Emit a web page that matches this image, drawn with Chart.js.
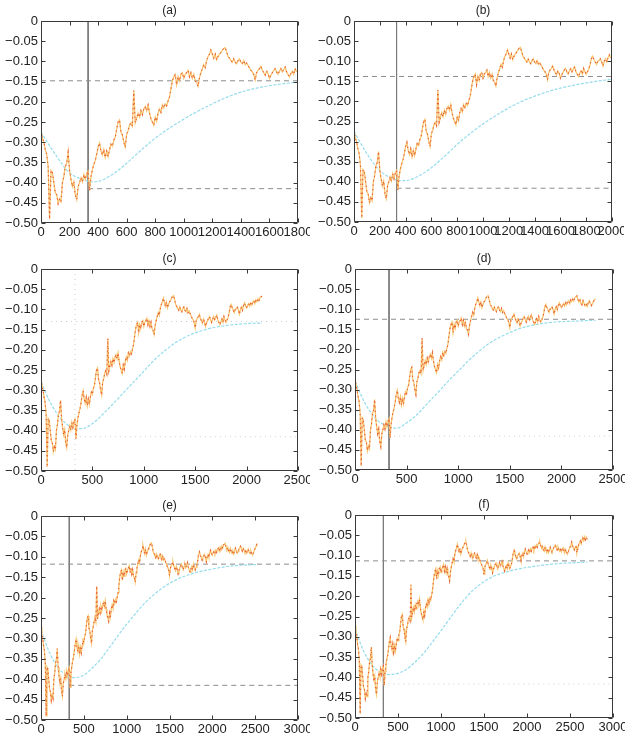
<!DOCTYPE html>
<html>
<head>
<meta charset="utf-8">
<script src="https://cdn.jsdelivr.net/npm/chart.js@4.4.1/dist/chart.umd.min.js"></script>
<style>
  html, body { margin: 0; padding: 0; background: #fff; }
  #wrap { position: relative; width: 625px; height: 736px; overflow: hidden; background: #fff; }
  #wrap canvas { position: absolute; }
</style>
</head>
<body>
<div id="wrap"></div>
<script>
// ---- data ----
// sampling interval of the drawdown series (x units per sample)
const sampleStep = 10;

// drawdown series, one value per sample starting at x = 0
const drawdown = [
  -0.272, -0.29, -0.30, -0.318, -0.33, -0.36, -0.49, -0.37, -0.375, -0.40,
  -0.425, -0.43, -0.452, -0.44, -0.447, -0.40, -0.385, -0.36, -0.352, -0.325,
  -0.37, -0.392, -0.41, -0.398, -0.43, -0.442, -0.41, -0.40, -0.388, -0.398,
  -0.38, -0.392, -0.378, -0.372, -0.42, -0.385, -0.368, -0.355, -0.345, -0.33,
  -0.312, -0.302, -0.322, -0.332, -0.318, -0.338, -0.322, -0.335, -0.318, -0.305,
  -0.31, -0.295, -0.288, -0.268, -0.25, -0.245, -0.275, -0.282, -0.30, -0.312,
  -0.28, -0.272, -0.258, -0.252, -0.26, -0.172, -0.252, -0.24, -0.228, -0.238,
  -0.222, -0.232, -0.218, -0.212, -0.222, -0.208, -0.228, -0.242, -0.25, -0.258,
  -0.238, -0.248, -0.228, -0.218, -0.226, -0.208, -0.215, -0.205, -0.21, -0.198,
  -0.188, -0.168, -0.148, -0.138, -0.132, -0.158, -0.138, -0.148, -0.132, -0.128,
  -0.142, -0.132, -0.128, -0.122, -0.138, -0.128, -0.142, -0.132, -0.148, -0.152,
  -0.162, -0.14, -0.128, -0.118, -0.108, -0.115, -0.098, -0.088, -0.082, -0.072,
  -0.082, -0.092, -0.082, -0.096, -0.088, -0.082, -0.078, -0.072, -0.068, -0.066,
  -0.076, -0.088, -0.092, -0.098, -0.102, -0.094, -0.102, -0.106, -0.098, -0.094,
  -0.102, -0.106, -0.098, -0.108, -0.104, -0.11, -0.116, -0.122, -0.126, -0.132,
  -0.146, -0.128, -0.122, -0.118, -0.112, -0.122, -0.128, -0.134, -0.124, -0.13,
  -0.142, -0.134, -0.128, -0.122, -0.118, -0.126, -0.132, -0.124, -0.118, -0.126,
  -0.12, -0.114, -0.126, -0.132, -0.138, -0.13, -0.124, -0.132, -0.118, -0.126,
  -0.132, -0.126, -0.12, -0.108, -0.094, -0.088, -0.096, -0.102, -0.108, -0.10,
  -0.098, -0.094, -0.102, -0.112, -0.10, -0.094, -0.102, -0.09, -0.084, -0.092,
  -0.096, -0.09, -0.086, -0.092, -0.084, -0.089, -0.081, -0.079, -0.086, -0.077,
  -0.081, -0.074, -0.079, -0.071, -0.069, -0.067, -0.076, -0.082, -0.077, -0.086,
  -0.089, -0.079, -0.086, -0.092, -0.087, -0.093, -0.084, -0.079, -0.086, -0.091,
  -0.087, -0.081, -0.077, -0.074, -0.081, -0.086, -0.079, -0.084, -0.089, -0.085,
  -0.091, -0.084, -0.081, -0.089, -0.092, -0.085, -0.091, -0.096, -0.091, -0.084,
  -0.079, -0.074, -0.067, -0.076, -0.081, -0.086, -0.079, -0.077, -0.093, -0.084,
  -0.074, -0.069, -0.064, -0.071, -0.061, -0.057, -0.063, -0.054, -0.061, -0.055,
  -0.06
];

const panelNames   = ['(a)', '(b)', '(c)', '(d)', '(e)', '(f)'];
const panelXMax    = [1800, 2000, 2500, 2500, 3000, 3000];
const panelXStep   = [200, 200, 500, 500, 500, 500];
const panelDataEnd = [1790, 1990, 2150, 2330, 2520, 2700];
const panelFitEnd  = [1800, 2000, 2150, 2330, 2520, 2700];

// x positions of the fitted curve samples (followed by each panel's fit end)
const fitGrid = [0, 100, 200, 300, 350, 400, 500, 600, 700, 800, 900, 1000, 1100, 1200,
  1300, 1400, 1500, 1600, 1700, 1800, 1900, 2000, 2100, 2200, 2300, 2400, 2500, 2600];

const fitA = [-0.275, -0.33, -0.376, -0.393, -0.398, -0.397, -0.38, -0.352, -0.32, -0.29,
  -0.265, -0.243, -0.223, -0.205, -0.189, -0.176, -0.167, -0.16, -0.155, -0.151];
const fitB = [-0.275, -0.33, -0.372, -0.392, -0.397, -0.397, -0.386, -0.365, -0.337, -0.307,
  -0.28, -0.256, -0.235, -0.216, -0.20, -0.187, -0.176, -0.167, -0.16, -0.154, -0.149, -0.145];
const fitC = [-0.28, -0.335, -0.372, -0.392, -0.395, -0.395, -0.383, -0.36, -0.334, -0.307,
  -0.28, -0.253, -0.226, -0.203, -0.184, -0.169, -0.158, -0.15, -0.144, -0.14, -0.137, -0.135,
  -0.134, -0.134];
const fitD = [-0.28, -0.335, -0.372, -0.39, -0.396, -0.396, -0.383, -0.362, -0.335, -0.308,
  -0.28, -0.254, -0.228, -0.205, -0.185, -0.17, -0.158, -0.148, -0.141, -0.136, -0.133, -0.131,
  -0.13, -0.129, -0.128, -0.128];
const fitE = [-0.28, -0.335, -0.372, -0.39, -0.395, -0.396, -0.39, -0.372, -0.35, -0.322,
  -0.293, -0.265, -0.24, -0.216, -0.196, -0.179, -0.165, -0.154, -0.146, -0.139, -0.134, -0.13,
  -0.126, -0.123, -0.121, -0.12, -0.119, -0.119];
const fitF = [-0.28, -0.335, -0.37, -0.388, -0.392, -0.393, -0.39, -0.38, -0.362, -0.34,
  -0.313, -0.285, -0.256, -0.227, -0.201, -0.18, -0.164, -0.152, -0.144, -0.138, -0.133, -0.129,
  -0.126, -0.123, -0.121, -0.119, -0.118, -0.117, -0.116];
const fits = [fitA, fitB, fitC, fitD, fitE, fitF];

// reference levels: long-run level of each fit and the common trough level
const upperLevel = [-0.148, -0.138, -0.130, -0.125, -0.118, -0.113];
const lowerLevel = [-0.415, -0.416, -0.415, -0.416, -0.415, -0.416];
const breakX = 330;

const yMin = -0.5, yMax = 0, yStep = 0.05;

// ---- presentation ----
const upperFaint = [false, false, true, false, false, false];
const lowerFaint = [false, false, true, true, false, true];
const breakFaint = [false, false, true, false, false, false];

// plot rectangles (page pixels)
const plotRects = [
  { l: 41,  t: 21,  r: 298, b: 223 },
  { l: 354, t: 21,  r: 612, b: 222 },
  { l: 41,  t: 269, r: 298, b: 471 },
  { l: 355, t: 269, r: 613, b: 470 },
  { l: 41,  t: 516, r: 298, b: 720 },
  { l: 355, t: 515, r: 613, b: 718 }
];
const AXIS_W = 41, TITLE_H = 21, XAXIS_H = 17, PAD_R = 12;

Chart.defaults.font.family = '"Liberation Sans", Arial, Helvetica, sans-serif';
Chart.defaults.font.size = 13;
Chart.defaults.color = '#222';

const fmtY = v => (Math.abs(v) < 1e-9 ? '0' : '\u2212' + Math.abs(v).toFixed(2));
const fmtX = v => String(Math.round(v));

// axes box with inward tick marks on all four sides
const framePlugin = {
  id: 'frame',
  afterDatasetsDraw(chart) {
    const { ctx, chartArea: a, scales } = chart;
    const L = Math.round(a.left) + 0.5, R = Math.round(a.right) - 0.5;
    const T = Math.round(a.top) + 0.5, B = Math.round(a.bottom) - 0.5;
    ctx.save();
    ctx.strokeStyle = '#3a3a3a';
    ctx.lineWidth = 1;
    ctx.beginPath();
    ctx.rect(L, T, R - L, B - T);
    const len = 4;
    scales.x.ticks.forEach(t => {
      const px = Math.round(scales.x.getPixelForValue(t.value)) + 0.5;
      ctx.moveTo(px, B); ctx.lineTo(px, B - len);
      ctx.moveTo(px, T); ctx.lineTo(px, T + len);
    });
    scales.y.ticks.forEach(t => {
      const py = Math.round(scales.y.getPixelForValue(t.value)) + 0.5;
      ctx.moveTo(L, py); ctx.lineTo(L + len, py);
      ctx.moveTo(R, py); ctx.lineTo(R - len, py);
    });
    ctx.stroke();
    ctx.restore();
  }
};

const wrap = document.getElementById('wrap');

panelNames.forEach((name, i) => {
  const rect = plotRects[i];
  const canvas = document.createElement('canvas');
  const w = rect.r - rect.l + AXIS_W + PAD_R;
  const h = rect.b - rect.t + TITLE_H + XAXIS_H;
  canvas.width = w; canvas.height = h;
  canvas.style.left = (rect.l - AXIS_W) + 'px';
  canvas.style.top = (rect.t - TITLE_H) + 'px';
  canvas.style.width = w + 'px'; canvas.style.height = h + 'px';
  wrap.appendChild(canvas);

  const end = panelDataEnd[i];
  const series = [];
  drawdown.forEach((v, k) => {
    const x = k * sampleStep;
    if (x <= end) series.push({ x, y: v });
  });

  const fitX = fitGrid.filter(x => x < panelFitEnd[i]).concat([panelFitEnd[i]]);
  const fitPts = fits[i].map((v, k) => ({ x: fitX[k], y: v }));

  const xMax = panelXMax[i];
  const faintLine = { borderColor: '#c9d3d3', borderDash: [1, 4], borderWidth: 1 };
  const grayDash = { borderColor: '#8c8c8c', borderDash: [5, 4], borderWidth: 1 };

  const datasets = [
    { // red flecks over the yellow trace
      data: series, borderColor: '#e8583e', borderWidth: 1.1, borderDash: [1.3, 3.2]
    },
    { data: series, borderColor: '#f7c56e', borderWidth: 1.3 },
    { data: fitPts, borderColor: '#95dcec', borderWidth: 1.2, borderDash: [3, 1.5],
      cubicInterpolationMode: 'monotone' },
    Object.assign({ data: [{ x: 0, y: upperLevel[i] }, { x: xMax, y: upperLevel[i] }] },
      upperFaint[i] ? faintLine : grayDash),
    Object.assign({ data: [{ x: breakX, y: lowerLevel[i] }, { x: xMax, y: lowerLevel[i] }] },
      lowerFaint[i] ? faintLine : grayDash),
    Object.assign({ data: [{ x: breakX, y: yMax }, { x: breakX, y: yMin }] },
      breakFaint[i] ? faintLine : { borderColor: '#7a7a7a', borderWidth: 1 })
  ];
  datasets.forEach(d => { d.pointRadius = 0; d.fill = false; if (!d.cubicInterpolationMode) d.tension = 0; });

  new Chart(canvas, {
    type: 'line',
    data: { datasets },
    options: {
      responsive: false,
      devicePixelRatio: 1,
      animation: false,
      events: [],
      layout: { padding: { left: 0, right: PAD_R, top: 0, bottom: 0 } },
      plugins: {
        legend: { display: false },
        tooltip: { enabled: false },
        title: {
          display: true, text: name, fullSize: false, color: '#222',
          font: { size: 12, weight: 'normal' }, padding: { top: 3, bottom: 3.6 }
        }
      },
      scales: {
        x: {
          type: 'linear', min: 0, max: xMax,
          grid: { display: false, drawTicks: false },
          border: { display: false },
          ticks: { stepSize: panelXStep[i], autoSkip: false, maxRotation: 0, minRotation: 0,
                   padding: 2, color: '#222', font: { size: 13 }, callback: v => fmtX(v) },
          afterFit(s) { s.height = XAXIS_H; s.paddingLeft = 0; s.paddingRight = 0; }
        },
        y: {
          type: 'linear', min: yMin, max: yMax,
          grid: { display: false, drawTicks: false },
          border: { display: false },
          ticks: { stepSize: yStep, autoSkip: false, padding: 3, color: '#222',
                   font: { size: 13 }, callback: v => fmtY(v) },
          afterFit(s) { s.width = AXIS_W; s.paddingTop = 0; s.paddingBottom = 0; }
        }
      }
    },
    plugins: [framePlugin]
  });
});
</script>
</body>
</html>
